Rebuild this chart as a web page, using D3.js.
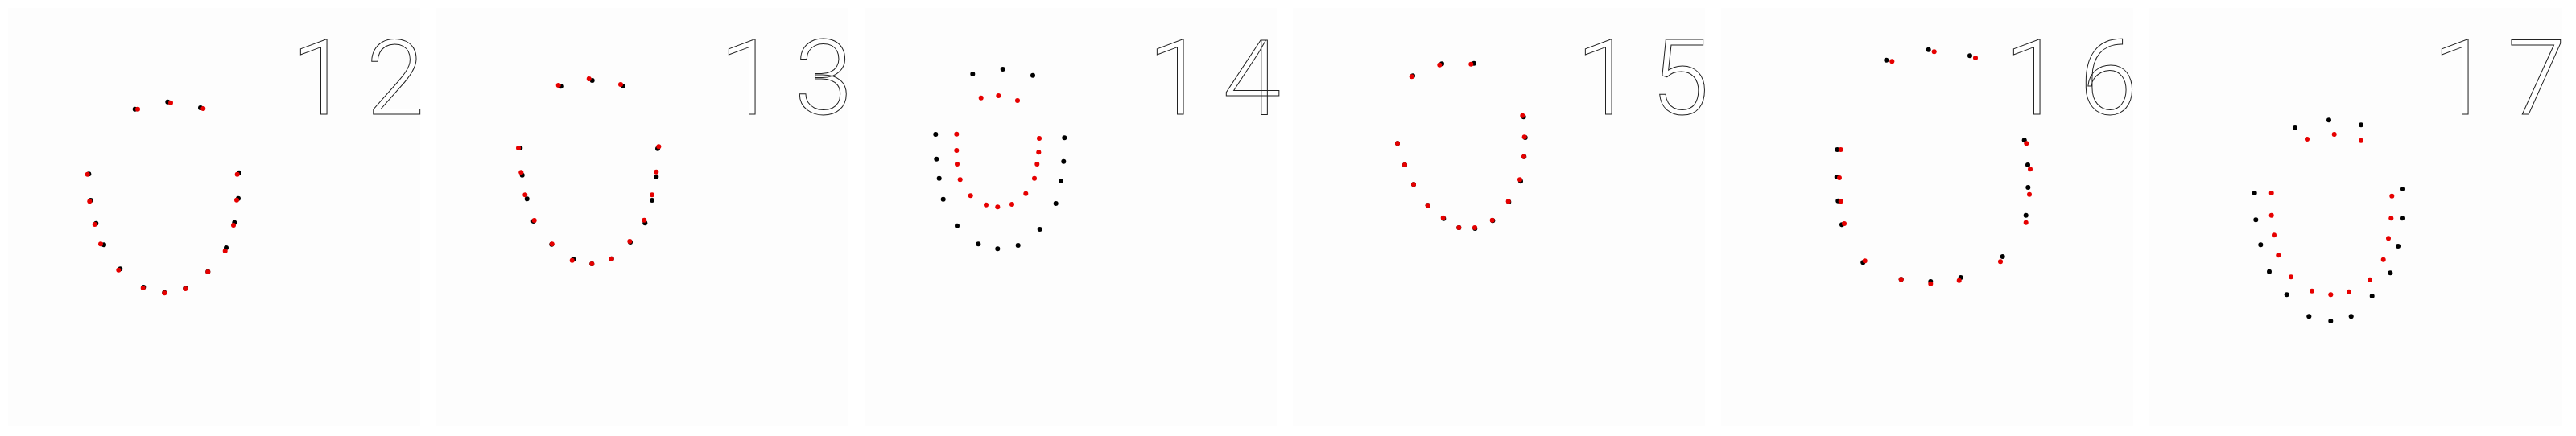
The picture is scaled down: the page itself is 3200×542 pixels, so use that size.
<!DOCTYPE html>
<html>
<head>
<meta charset="utf-8">
<script src="https://cdn.jsdelivr.net/npm/d3@7"></script>
<style>
html,body{margin:0;padding:0;background:#ffffff;}
svg{display:block;}
</style>
</head>
<body>
<svg id="chart" width="3200" height="542"></svg>
<script>
// Frame labels (one per panel)
const frameLabels = ["12", "13", "14", "15", "16", "17"];

// Ground-truth landmarks (black), local panel pixel coordinates, 16 points per frame
const truthX = [
  [167.7, 208.3, 249, 110.3, 112.7, 119.3, 129, 149.3, 178.3, 204.3, 230.3, 258.3, 281, 291.3, 296, 297],
  [164.7, 203.7, 242, 114.3, 116.7, 122.7, 130.7, 153.3, 180.3, 203.3, 227.7, 251, 269.3, 278, 283.3, 285],
  [144.3, 181.7, 219, 98.3, 99.3, 102.7, 107.7, 125, 151.3, 175.3, 200.7, 227.7, 247.7, 254, 257.3, 258.3],
  [159, 195, 235, 140, 149, 160, 177.7, 197.3, 216.3, 236.3, 258.3, 278.3, 293, 297.3, 298.7, 296.7],
  [215.3, 267.7, 319, 154.3, 153.7, 155.3, 160, 186.3, 233.7, 270.3, 307.7, 359.7, 388.7, 391.3, 391, 386.7],
  [191, 233, 273, 140.7, 142.3, 148.3, 159, 180.7, 208.3, 235.3, 260.7, 286.7, 309.3, 319, 324, 324]
];
const truthY = [
  [135.7, 126.7, 134, 216.3, 249, 277.7, 304.3, 334.3, 357, 363.7, 358.3, 337.7, 308, 276.7, 246.7, 214.7],
  [107.3, 100, 107, 184, 217.7, 247.3, 275, 303.7, 322.3, 328, 321.7, 301, 277.3, 249, 219.7, 184.7],
  [92, 86, 93.7, 167, 197.7, 221.7, 247.7, 280.7, 303.3, 309.3, 305, 285, 253, 225, 200.7, 171.3],
  [94.3, 79.3, 78.7, 178.3, 205, 229.3, 255.3, 271.7, 283, 284, 274.3, 251, 225.3, 194.7, 171, 145.3],
  [74.7, 61.7, 69.3, 186, 220, 249.7, 279.3, 326.3, 347.3, 350, 345, 319, 267.7, 233, 205, 174.3],
  [159, 149.3, 155.3, 240, 273.3, 304.3, 337.7, 366.3, 393.3, 399, 393.3, 368, 339.3, 306, 271.3, 235]
];

// Predicted landmarks (red)
const predX = [
  [171, 212, 252.3, 108.7, 111.3, 117.7, 125, 147.3, 177.7, 204.3, 230.3, 258.3, 279.7, 290, 294, 294.7],
  [161.7, 199.7, 239, 112, 115.3, 120.3, 131.7, 153.7, 178.7, 203.3, 227.7, 250.3, 268.3, 278, 283.3, 286.3],
  [154.7, 176.3, 200, 124.3, 124.3, 125, 128.7, 141.7, 161, 175.3, 193, 210.3, 221, 224.3, 226.3, 227],
  [157.7, 192.3, 231.3, 140, 149, 160, 177.7, 196.7, 216.3, 236, 257.7, 277.7, 292, 297, 297.7, 295.3],
  [222.3, 274.7, 326, 158.7, 157, 158.7, 163, 188.7, 233.7, 270.3, 305.7, 357, 388.7, 393, 394, 389.3],
  [206, 239.7, 273, 161.7, 161.7, 165, 170.3, 186, 212, 235.3, 258, 284, 300.7, 307, 310.3, 311.3]
];
const predY = [
  [135.7, 127.7, 135, 216.7, 250.3, 279, 303.3, 335.7, 358, 364.3, 359, 338, 312, 280, 248.7, 216.7],
  [106, 98, 105, 184, 214.3, 242.3, 274, 303.3, 323.7, 328, 321.7, 300, 273.7, 242.3, 213.7, 182.3],
  [121.7, 119, 125, 166.7, 187, 204, 223.3, 243.3, 254.7, 257.3, 254, 240.7, 221.7, 204, 189.3, 172],
  [95.3, 80.7, 79.7, 178.3, 205, 229.3, 255.3, 270.7, 283, 283, 273.7, 250.3, 223.3, 194.7, 170.3, 143.7],
  [76.3, 64.3, 72, 186, 221, 250.3, 278, 324.3, 347.3, 352.7, 348.7, 325.3, 276.7, 241.7, 210.3, 178.3],
  [173, 167, 174.7, 240, 267.7, 292.3, 317.3, 344.3, 361.7, 366.3, 362.7, 347.7, 322.7, 296.3, 271.3, 243.7]
];

const W = 3200, H = 542;
const panelW = 532, panelH = 542;
const svg = d3.select("#chart");
svg.append("rect").attr("width", W).attr("height", H).attr("fill", "#ffffff");

const panelScale = d3.scaleBand().domain(frameLabels).range([0, panelW * 6]).paddingInner(0).paddingOuter(0);
const y = d3.scaleLinear().domain([0, panelH]).range([0, panelH]);

frameLabels.forEach((lab, i) => {
  const off = panelScale(lab);
  const x = d3.scaleLinear().domain([0, panelW]).range([off, off + panelW]);
  const g = svg.append("g").attr("class", "panel");

  g.append("rect")
    .attr("x", x(10)).attr("y", y(10))
    .attr("width", x(522) - x(10)).attr("height", y(530) - y(10))
    .attr("fill", "#fdfdfd");

  const tx = truthX[i], ty = truthY[i], px = predX[i], py = predY[i];
  const truth = tx.map((v, k) => ({x: v, y: ty[k]}));
  const pred = px.map((v, k) => ({x: v, y: py[k]}));

  g.selectAll("circle.truth").data(truth).join("circle")
    .attr("class", "truth")
    .attr("cx", d => x(d.x)).attr("cy", d => y(d.y)).attr("r", 3)
    .attr("fill", "#000000");
  g.selectAll("circle.pred").data(pred).join("circle")
    .attr("class", "pred")
    .attr("cx", d => x(d.x)).attr("cy", d => y(d.y)).attr("r", 3)
    .attr("fill", "#e60000");

  const chars = lab.split("");
  const charX = [398, 491];
  g.selectAll("text.lab").data(chars).join("text")
    .attr("class", "lab")
    .attr("x", (c, k) => x(charX[k]))
    .attr("y", y(142))
    .attr("text-anchor", "middle")
    .attr("font-family", "Roboto, 'Open Sans', sans-serif")
    .attr("font-weight", 300)
    .attr("font-size", 130)
    .attr("fill", "#ffffff")
    .attr("stroke", "#222222")
    .attr("stroke-width", 1)
    .text(c => c);
});
</script>
</body>
</html>
